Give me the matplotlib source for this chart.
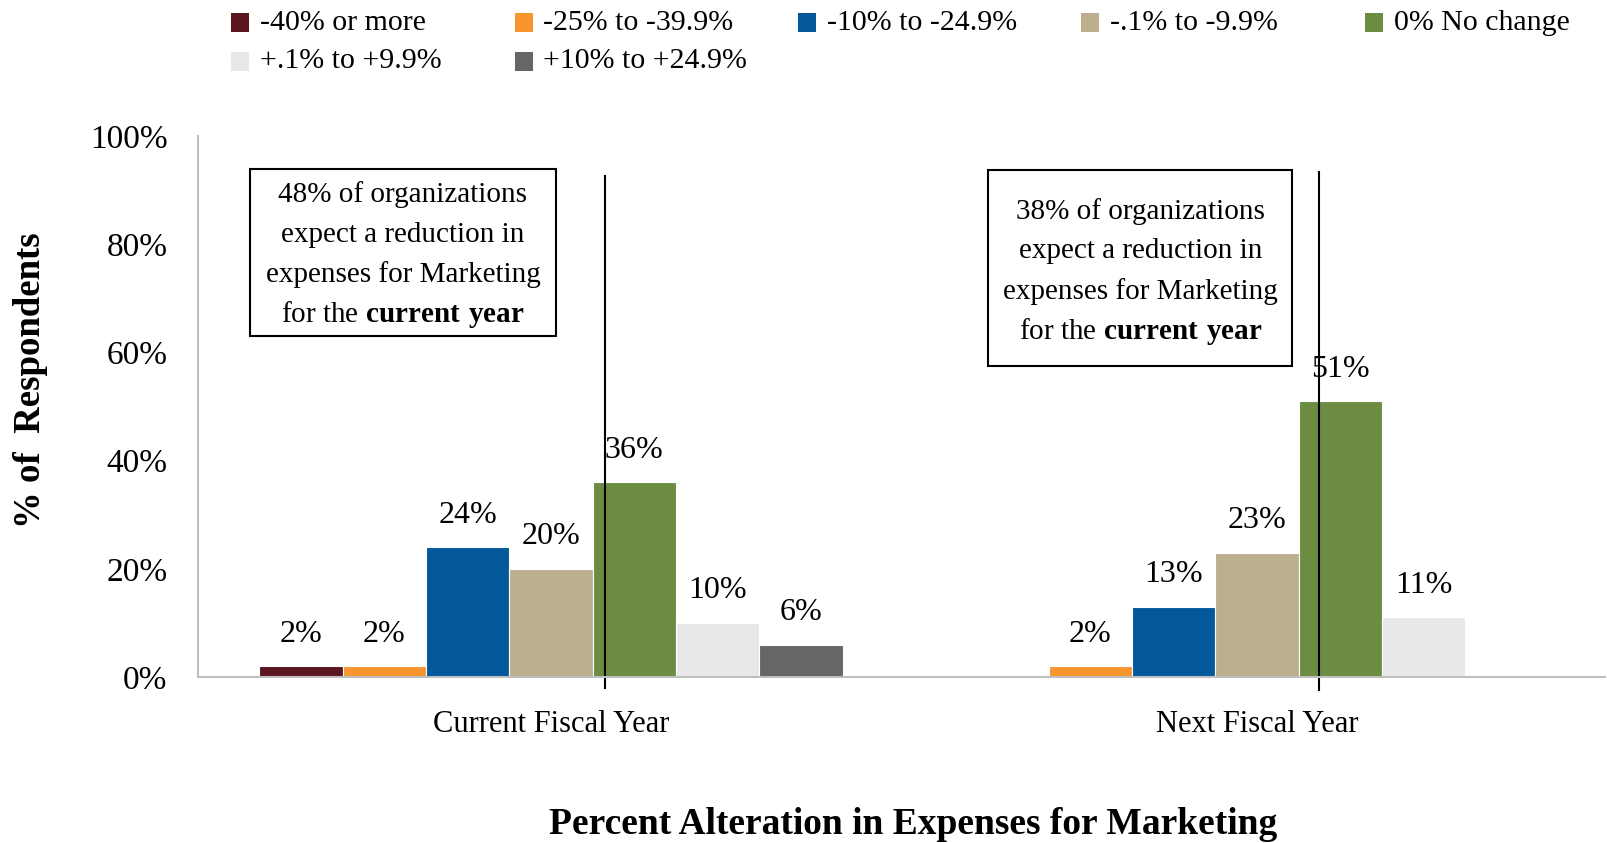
import numpy as np
import matplotlib
matplotlib.use('Agg')
import matplotlib.pyplot as plt
from matplotlib.patches import Rectangle

plt.rcParams['font.family'] = ['Liberation Serif', 'DejaVu Serif']
plt.rcParams['mathtext.fontset'] = 'custom'
plt.rcParams['mathtext.rm'] = 'Liberation Serif'
plt.rcParams['mathtext.bf'] = 'Liberation Serif:bold'

# dados
grupos = ['Current Fiscal Year', 'Next Fiscal Year']
series = ['-40% or more', '-25% to -39.9%', '-10% to -24.9%', '-.1% to -9.9%',
          '0% No change', '+.1% to +9.9%', '+10% to +24.9%']
cores = ['#5B1520', '#F7962F', '#02589A', '#BCAF8E', '#6B8C41', '#E8E8E8', '#666666']
valores_atual = [2, 2, 24, 20, 36, 10, 6]
valores_proximo = [None, 2, 13, 23, 51, 11, None]

caixa1 = ['48% of organizations', 'expect a reduction in',
          'expenses for Marketing', r'for the $\bf{current\ year}$']
caixa2 = ['38% of organizations', 'expect a reduction in',
          'expenses for Marketing', r'for the $\bf{current\ year}$']

fig = plt.figure(figsize=(16.08, 8.43), dpi=100)
ax = fig.add_axes([198 / 1608, 1 - 677 / 843, 1407 / 1608, 541 / 843])

n = len(series)
largura = 0.118
x = np.arange(len(grupos))

for i in range(n):
    vals = [valores_atual[i], valores_proximo[i]]
    pos = [x[j] + (i - (n - 1) / 2) * largura for j in range(2) if vals[j] is not None]
    h = [v for v in vals if v is not None]
    ax.bar(pos, h, width=largura, color=cores[i], edgecolor='white', linewidth=0.8)
    for p, v in zip(pos, h):
        ax.annotate(f'{v}%', (p, v), xytext=(0, 23), textcoords='offset points',
                    ha='center', va='center', fontsize=23)

ax.set_xlim(-0.5, 1.493)
ax.set_ylim(0, 100)
ax.set_yticks(np.arange(0, 101, 20))
ax.set_yticklabels([f'{t}%' for t in range(0, 101, 20)], fontsize=24)
ax.set_xticks(x)
ax.set_xticklabels(grupos, fontsize=22)
ax.tick_params(axis='y', length=0, pad=22)
ax.tick_params(axis='x', length=0, pad=24)
for s in ['top', 'right']:
    ax.spines[s].set_visible(False)
for s in ['left', 'bottom']:
    ax.spines[s].set_color('#BFBFBF')
    ax.spines[s].set_linewidth(1.5)

fig.text(31 / 1608, 1 - 380 / 843, '% of  Respondents', rotation=90, ha='center', va='center',
         fontsize=26.5, fontweight='bold')
fig.text(913 / 1608, 1 - 825 / 843, 'Percent Alteration in Expenses for Marketing',
         ha='center', va='center', fontsize=27, fontweight='bold')

# linhas verticais
ax.plot([0.076, 0.076], [-2.0, 92.6], color='black', lw=1.5, clip_on=False)
ax.plot([1.088, 1.088], [-2.4, 93.3], color='black', lw=1.5, clip_on=False)

# caixas de texto
for (x0, x1, y0, y1, linhas, yc) in [(-0.4257, 0.0064, 63.0, 93.9, caixa1, 255),
                                     (0.6197, 1.0503, 57.5, 93.7, caixa2, 271.5)]:
    ax.add_patch(Rectangle((x0, y0), x1 - x0, y1 - y0, facecolor='white',
                           edgecolor='black', lw=1.5, zorder=3))
    for k, t in enumerate(linhas):
        yp = (677 - (yc + (k - 1.5) * 40)) / 5.41
        ax.text((x0 + x1) / 2, yp, t, ha='center', va='center', fontsize=21, zorder=4)

# legenda
for i in range(n):
    col = i % 5
    lin = i // 5
    lx = (231 + col * 283.5) / 1608
    ly = 1 - (22.5 + lin * 39) / 843
    fig.patches.append(Rectangle((lx, ly - 9 / 843), 18 / 1608, 18 / 843,
                                 facecolor=cores[i], edgecolor='none',
                                 transform=fig.transFigure, figure=fig))
    fig.text(lx + 29 / 1608, ly, series[i], ha='left', va='center', fontsize=21.5)

plt.savefig('out.png', dpi=100)
